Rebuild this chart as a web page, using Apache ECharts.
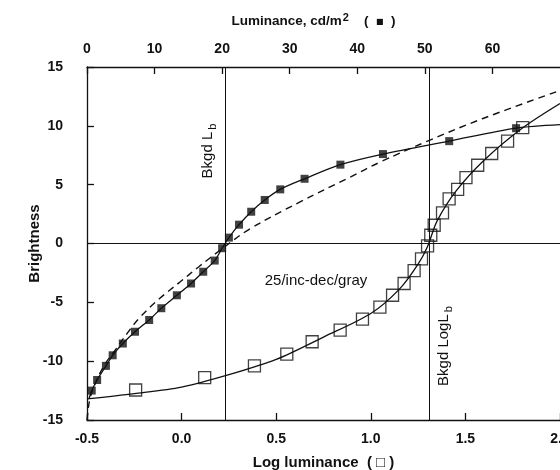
<!DOCTYPE html>
<html lang="en">
<head>
<meta charset="UTF-8">
<title>Brightness vs luminance</title>
<style type="text/css">
    *{
        margin: 0;
        padding: 0;
    }
    body{
        background-color: #fff;
    }
    .echarts{
        width: 560px;
        height: 470px;
    }
</style>
</head>
<body>
    <div class="echarts"></div>

<script src="https://cdn.jsdelivr.net/npm/echarts@6/dist/echarts.min.js"></script>
<script type="text/javascript">
    // 实心方块: 亮度 vs 亮度值 cd/m2 (上方坐标轴)
    var lumX = [0.7, 1.5, 2.8, 3.8, 5.3, 7.1, 9.2, 11.0, 13.3, 15.4, 17.2, 18.9, 20.0, 21.0, 22.5, 24.3, 26.3, 28.6, 32.2, 37.5, 43.8, 53.6, 63.5]
    var lumY = [-12.5, -11.6, -10.4, -9.5, -8.5, -7.5, -6.5, -5.5, -4.4, -3.4, -2.4, -1.45, -0.4, 0.5, 1.6, 2.7, 3.7, 4.6, 5.5, 6.7, 7.6, 8.7, 9.8]
    // 实心方块的拟合曲线两端
    var lumCurveStart = [0.3, -13.2]
    var lumCurveEnd = [70, 10.1]

    // 虚线
    var dashX = [0, 0.15, 0.4, 1.0, 2.5, 4.0, 6.0, 7.8, 10.7, 13.7, 16.6, 20.1, 24.0, 31.4, 38.8, 43.5, 50.4, 58.5, 70]
    var dashY = [-15, -14.2, -13.3, -12.2, -10.4, -9.2, -7.6, -6.3, -4.7, -3.3, -1.95, -0.4, 1.2, 3.5, 5.6, 6.95, 8.7, 10.6, 13.0]

    // 空心方块: 亮度 vs log 亮度 (下方坐标轴)
    var logX = [-0.243, 0.122, 0.385, 0.556, 0.69, 0.838, 0.956, 1.048, 1.115, 1.176, 1.229, 1.268, 1.300, 1.317, 1.335, 1.379, 1.414, 1.459, 1.503, 1.565, 1.639, 1.723, 1.803]
    var logY = [-12.45, -11.4, -10.4, -9.4, -8.35, -7.36, -6.42, -5.4, -4.4, -3.4, -2.3, -1.3, -0.2, 0.7, 1.55, 2.6, 3.8, 4.6, 5.6, 6.65, 7.65, 8.7, 9.85]
    // 空心方块的拟合曲线
    var logCurveX = [-0.5, -0.25, 0, 0.25, 0.5, 0.75, 1.0, 1.15, 1.25, 1.3, 1.35, 1.45, 1.6, 1.8, 2.0]
    var logCurveY = [-13.2, -12.75, -12.2, -11.15, -9.85, -7.95, -5.95, -3.9, -1.75, -0.25, 1.9, 4.45, 7.1, 9.8, 11.9]

    // 背景亮度参考线
    var bkgdLum = 20.5
    var bkgdLogLum = 1.312

    // 刻度
    var logTicks = { min: -0.5, max: 2.0, interval: 0.5 }
    var lumTicks = { min: 0, max: 70, interval: 10 }
    var brightTicks = { min: -15, max: 15, interval: 5 }

    function zip(xs, ys) {
        return xs.map(function (x, i) { return [x, ys[i]] })
    }

    var font = '"Liberation Sans", Arial, sans-serif'
    var black = '#111'

    var echartOne = echarts.init(document.querySelector('.echarts'))

    var options = {
        animation: false,
        textStyle: { fontFamily: font, color: black },
        grid: { left: 87, right: 0, top: 67, bottom: 50, containLabel: false, outerBoundsMode: 'none' },
        xAxis: [
            {
                type: 'value',
                position: 'bottom',
                min: logTicks.min, max: logTicks.max, interval: logTicks.interval,
                axisLine: { show: true, onZero: false, lineStyle: { color: black, width: 1.3 } },
                axisTick: { show: true, inside: true, length: 7, lineStyle: { color: black, width: 1.3 } },
                splitLine: { show: false },
                axisLabel: {
                    margin: 12, color: black, fontWeight: 'bold', fontSize: 14, fontFamily: font,
                    formatter: function (v) { return v.toFixed(1) }
                },
                name: 'Log luminance  ( □ )',
                nameLocation: 'middle',
                nameGap: 35,
                nameTextStyle: { fontWeight: 'bold', fontSize: 15, color: black, fontFamily: font }
            },
            {
                type: 'value',
                position: 'top',
                min: lumTicks.min, max: lumTicks.max, interval: lumTicks.interval,
                axisLine: { show: true, onZero: false, lineStyle: { color: black, width: 1.3 } },
                axisTick: { show: true, inside: true, length: 7, lineStyle: { color: black, width: 1.3 } },
                splitLine: { show: false },
                axisLabel: { margin: 11, color: black, fontWeight: 'bold', fontSize: 14, fontFamily: font, showMaxLabel: false },
                name: '{a|Luminance, cd/m}{s|2}{a|    (  }{q|■}{a|  )}',
                nameLocation: 'middle',
                nameGap: 36,
                nameTextStyle: {
                    padding: [0, 20, 0, 0],
                    rich: {
                        a: { fontWeight: 'bold', fontSize: 13.5, color: black, fontFamily: font },
                        s: { fontWeight: 'bold', fontSize: 11, color: black, fontFamily: font, padding: [0, 0, 8, 1] },
                        q: { fontSize: 8, color: black, fontFamily: 'DejaVu Sans' }
                    }
                }
            }
        ],
        yAxis: {
            type: 'value',
            min: brightTicks.min, max: brightTicks.max, interval: brightTicks.interval,
            axisLine: { show: true, onZero: false, lineStyle: { color: black, width: 1.3 } },
            axisTick: { show: true, inside: true, length: 7, lineStyle: { color: black, width: 1.3 } },
            splitLine: { show: false },
            axisLabel: { margin: 24, color: black, fontWeight: 'bold', fontSize: 14, fontFamily: font },
            name: 'Brightness',
            nameLocation: 'middle',
            nameGap: 45,
            nameMoveOverlap: false,
            nameTextStyle: { fontWeight: 'bold', fontSize: 15, color: black, fontFamily: font }
        },
        series: [
            {
                // 实心方块拟合曲线 + 竖线 Bkgd Lb + 零线
                type: 'line',
                xAxisIndex: 1,
                data: [lumCurveStart].concat(zip(lumX, lumY), [lumCurveEnd]),
                smooth: 0.3,
                showSymbol: false,
                lineStyle: { color: black, width: 1.3 },
                markLine: {
                    silent: true,
                    symbol: 'none',
                    label: { show: false },
                    lineStyle: { color: black, width: 1, type: 'solid' },
                    data: [{ xAxis: bkgdLum }, { yAxis: 0 }]
                }
            },
            {
                type: 'line',
                xAxisIndex: 1,
                data: zip(dashX, dashY),
                smooth: 0.4,
                showSymbol: false,
                lineStyle: { color: black, width: 1.4, type: [7, 5] }
            },
            {
                // 空心方块拟合曲线 + 竖线 Bkgd LogLb
                type: 'line',
                xAxisIndex: 0,
                data: zip(logCurveX, logCurveY),
                smooth: 0.3,
                showSymbol: false,
                lineStyle: { color: black, width: 1.3 },
                markLine: {
                    silent: true,
                    symbol: 'none',
                    label: { show: false },
                    lineStyle: { color: black, width: 1, type: 'solid' },
                    data: [{ xAxis: bkgdLogLum }]
                }
            },
            {
                type: 'scatter',
                xAxisIndex: 1,
                data: zip(lumX, lumY),
                symbol: 'rect',
                symbolSize: 8,
                itemStyle: { color: black }
            },
            {
                type: 'scatter',
                xAxisIndex: 0,
                data: zip(logX, logY),
                symbol: 'rect',
                symbolSize: 12,
                itemStyle: { color: 'rgba(0,0,0,0)', borderColor: black, borderWidth: 1.3 }
            }
        ],
        graphic: [
            {
                type: 'text',
                x: 316, y: 281,
                style: { text: '25/inc-dec/gray', fontSize: 15, fontFamily: font, fill: black, align: 'center', verticalAlign: 'middle' }
            },
            {
                type: 'text',
                x: 208, y: 151,
                rotation: Math.PI / 2,
                style: {
                    text: '{n|Bkgd L}{s|b}',
                    align: 'center', verticalAlign: 'middle',
                    rich: {
                        n: { fontSize: 15, fontFamily: font, fill: black },
                        s: { fontSize: 11, fontFamily: font, fill: black, padding: [9, 0, 0, 2] }
                    }
                }
            },
            {
                type: 'text',
                x: 444, y: 346,
                rotation: Math.PI / 2,
                style: {
                    text: '{n|Bkgd LogL}{s|b}',
                    align: 'center', verticalAlign: 'middle',
                    rich: {
                        n: { fontSize: 15, fontFamily: font, fill: black },
                        s: { fontSize: 11, fontFamily: font, fill: black, padding: [9, 0, 0, 2] }
                    }
                }
            }
        ]
    }

    echartOne.setOption(options)
</script>
</body>
</html>
